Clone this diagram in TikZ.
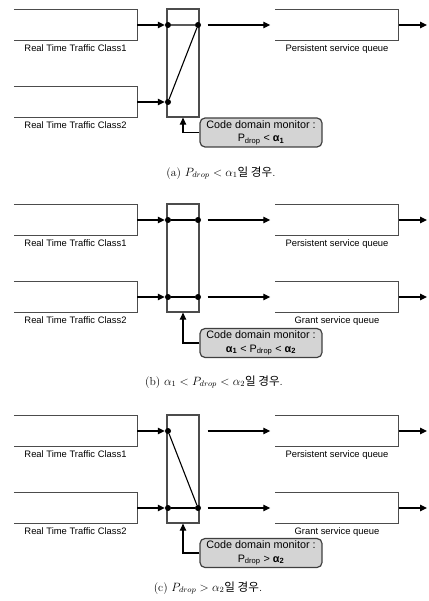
\documentclass[tikz,border=0pt]{standalone}
\usepackage{fontspec}
\newfontfamily\labelfont{Liberation Sans}
\newfontfamily\korfont{Noto Sans CJK KR}
\usetikzlibrary{positioning,arrows.meta}

\begin{document}
\begin{tikzpicture}[x=1pt, y=-1pt,
    queue/.style={minimum width=123pt, minimum height=30pt, inner sep=0pt},
    swbox/.style={draw=black!70, line width=1.3pt, minimum width=32pt, minimum height=108pt, inner sep=0pt},
    dot/.style={circle, fill=black, inner sep=0pt, minimum size=6pt},
    lbl/.style={font=\labelfont\fontsize{9.4}{11}\selectfont, inner sep=0pt, text height=7pt, text depth=2pt},
    monitor/.style={draw=black!75, line width=1.2pt, fill=black!17, rounded corners=5pt, minimum width=122pt, minimum height=29pt, align=center, inner sep=1pt, font=\labelfont\fontsize{10.8}{13.5}\selectfont},
    caption/.style={font=\fontsize{11.6}{13}\selectfont, inner sep=0pt},
    qline/.style={draw=black!70, line width=1.3pt},
    arr/.style={-{Triangle[length=7pt,width=6.5pt]}, line width=1.1pt},
    link/.style={line width=1.1pt}]

  \useasboundingbox (0,0) rectangle (428,601);

  \foreach \p/\off in {a/0,b/195,c/406} {
    \begin{scope}[yshift=-\off pt]
      \node[queue] (q1\p) at (75.5,25) {};
      \node[queue] (q2\p) at (75.5,102) {};
      \node[queue] (p\p) at (337,25) {};
      \draw[qline] (q1\p.north west) -| (q1\p.south east) -- (q1\p.south west);
      \draw[qline] (q2\p.north west) -| (q2\p.south east) -- (q2\p.south west);
      \draw[qline] (p\p.north west) -| (p\p.south east) -- (p\p.south west);
      \node[lbl, below=4.5pt of q1\p] (l1\p) {Real Time Traffic Class1};
      \node[lbl, below=4.5pt of q2\p] (l2\p) {Real Time Traffic Class2};
      \node[lbl, below=4.5pt of p\p] (lp\p) {Persistent service queue};

      \node[swbox] (sw\p) at (183,63) {};
      \node[dot] (d1\p) at (168,25) {};
      \node[dot] (d2\p) at (168,102) {};
      \coordinate (o1\p) at (427,25);

      \draw[arr] (q1\p.east) -- (d1\p);
      \draw[arr] (q2\p.east) -- (d2\p);
      \draw[arr, shorten <=8pt, shorten >=5pt] (sw\p.east |- q1\p) -- (p\p.west);
      \draw[arr] (p\p.east) -- (o1\p);
    \end{scope}
  }

  % (a)
  \node[dot] (d3a) at (198,25) {};
  \draw[link] (d1a) -- (d3a) -- (d2a);
  \node[monitor] (ma) at (261,132.5) {Code domain monitor :\\P\textsubscript{drop} < \textbf{α\textsubscript{1}}};
  \draw[arr] (ma.west) -| (swa.south);
  \node[caption] (capa) at (221,173) {(a) $P_{drop} < \alpha_1${\korfont 일 경우}.};

  % (b) and (c)
  \foreach \p/\off in {b/195,c/406} {
    \begin{scope}[yshift=-\off pt]
      \node[queue] (g\p) at (337,102) {};
      \draw[qline] (g\p.north west) -| (g\p.south east) -- (g\p.south west);
      \node[lbl, below=4.5pt of g\p] (lg\p) {Grant service queue};
      \node[dot] (d4\p) at (198,102) {};
      \coordinate (o2\p) at (427,102);
      \draw[arr, shorten <=8pt, shorten >=5pt] (sw\p.east |- q2\p) -- (g\p.west);
      \draw[arr] (g\p.east) -- (o2\p);
    \end{scope}
  }

  \node[dot] (d3b) at (198,220) {};
  \draw[link] (d1b) -- (d3b);
  \draw[link] (d2b) -- (d4b);
  \node[monitor] (mb) at (261,343) {Code domain monitor :\\\textbf{α\textsubscript{1}} < P\textsubscript{drop} < \textbf{α\textsubscript{2}}};
  \draw[arr] (mb.west) -| (swb.south);
  \node[caption] (capb) at (214,382) {(b) $\alpha_1 < P_{drop} < \alpha_2${\korfont 일 경우}.};

  \draw[link] (d1c) -- (d4c);
  \draw[link] (d2c) -- (d4c);
  \node[monitor] (mc) at (261,553) {Code domain monitor :\\P\textsubscript{drop} > \textbf{α\textsubscript{2}}};
  \draw[arr] (mc.west) -| (swc.south);
  \node[caption] (capc) at (208,588) {(c) $P_{drop} > \alpha_2${\korfont 일 경우}.};
\end{tikzpicture}
\end{document}
